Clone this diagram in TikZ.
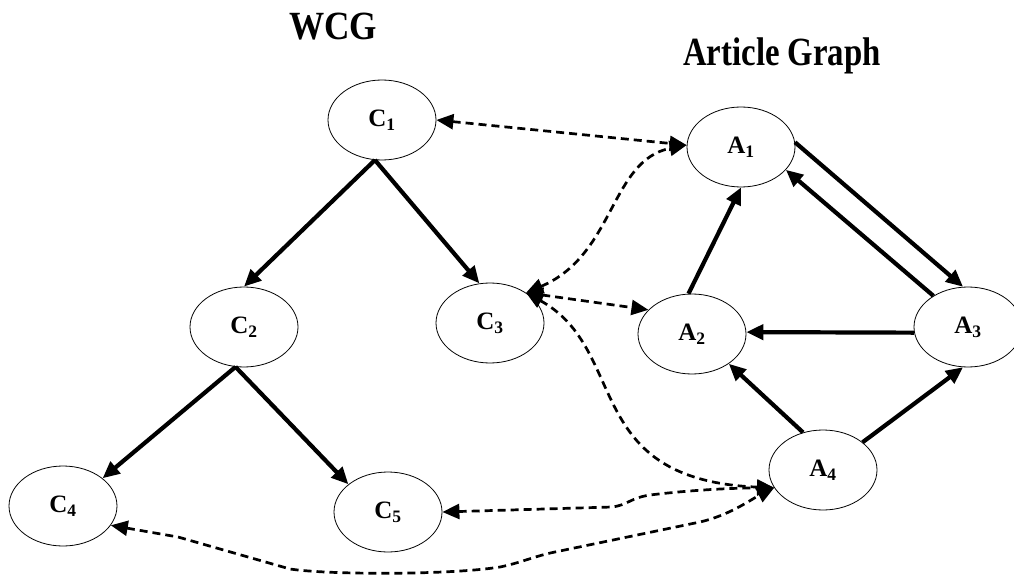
\documentclass[tikz,border=0pt]{standalone}
\usepackage{fontspec}
\setmainfont{Liberation Serif}
\usetikzlibrary{shapes.geometric,arrows.meta}
\tikzset{
  ell/.style={draw, ellipse, line width=0.8pt, minimum width=108pt, minimum height=80pt, inner sep=0pt,
    font=\fontsize{25}{28}\selectfont\bfseries},
  solidarr/.style={-{Triangle[length=17pt,width=15pt]}, line width=4.2pt},
  dasharr/.style={{Triangle[length=17pt,width=15pt]}-{Triangle[length=17pt,width=15pt]},
    line width=2.7pt, dash pattern=on 8pt off 5pt},
  titletext/.style={font=\fontsize{40}{44}\selectfont\bfseries, inner sep=0pt, anchor=base}
}
\begin{document}
\begin{tikzpicture}[x=1pt,y=-1pt]
\useasboundingbox (0,0) rectangle (1014,577);
% titles
\node[titletext] (wcg) at (333,40) {\scalebox{0.88}[1]{WCG}};
\node[titletext] (ag) at (782,66) {\scalebox{0.82}[1]{Article Graph}};
% WCG nodes
\node[ell] (C1) at (382,120) {C\textsubscript{1}};
\node[ell] (C2) at (244,327) {C\textsubscript{2}};
\node[ell] (C3) at (490,323) {C\textsubscript{3}};
\node[ell] (C4) at (63,506) {C\textsubscript{4}};
\node[ell] (C5) at (388,512) {C\textsubscript{5}};
% article nodes
\node[ell] (A1) at (741,147) {A\textsubscript{1}};
\node[ell] (A2) at (692,334) {A\textsubscript{2}};
\node[ell] (A3) at (968,327) {A\textsubscript{3}};
\node[ell] (A4) at (823,470) {A\textsubscript{4}};
% solid edges
\draw[solidarr] (C1.260) -- (C2.north);
\draw[solidarr] (C1.260) -- (C3.105);
\draw[solidarr] (C2.258) -- (C4.35);
\draw[solidarr] (C2.258) -- (C5.145);
\draw[solidarr] (A2.95) -- (A1.south);
\draw[solidarr] (A1.5) -- (A3.97);
\draw[solidarr] (A3.138) -- (A1.333);
\draw[solidarr] (A3.186) -- (A2.2);
\draw[solidarr] (A4.118) -- (A2.321);
\draw[solidarr] (A4.35) -- (A3.263);
% dashed correspondences
\draw[dasharr] (C1.east) -- (A1.178);
\draw[dasharr] (C3.40) .. controls (615,255) and (610,160) .. (A1.178);
\draw[dasharr] (C3.40) -- (A2.151);
\draw[dasharr] (C3.40) .. controls (630,350) and (580,480) .. (A4.200);
\draw[dasharr] (C5.east) -- (612,507) .. controls (628,505) and (630,498) .. (650,495)
  .. controls (700,489) and (740,488) .. (A4.200);
\draw[dasharr] (C4.-22) -- (178,537) -- (290,569) .. controls (330,575) and (450,575) .. (500,567)
  .. controls (520,563) and (535,556) .. (555,552) -- (700,522) .. controls (730,515) and (750,500) .. (A4.200);
\end{tikzpicture}
\end{document}
